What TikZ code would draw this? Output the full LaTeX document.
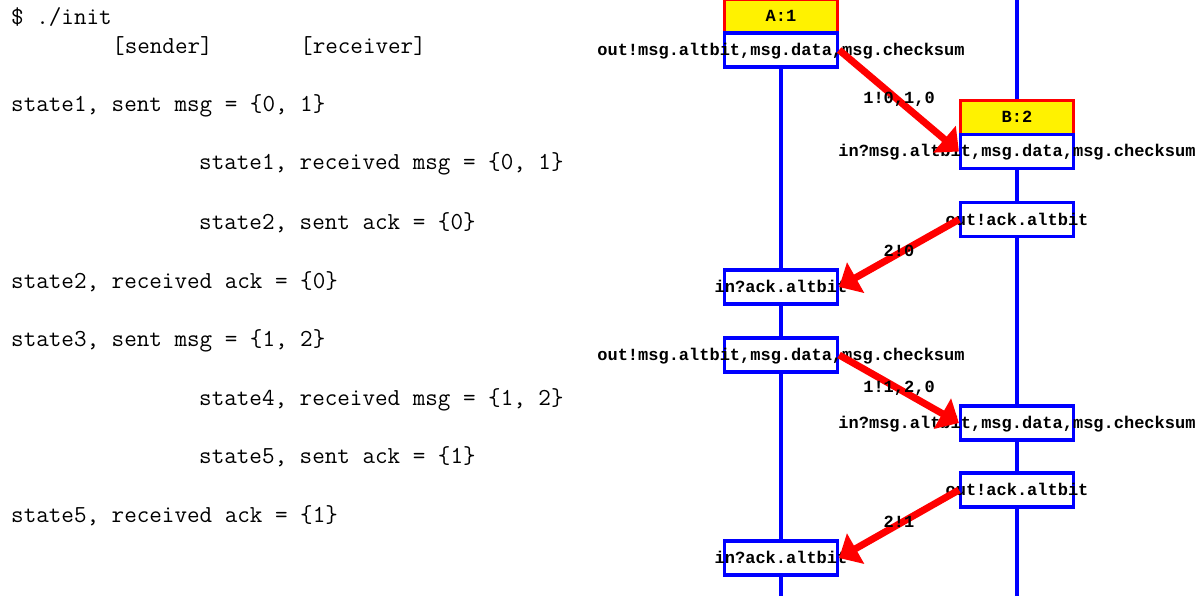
\documentclass[tikz,border=0pt]{standalone}
\usepackage{fontspec}
\newfontfamily\cour{Liberation Mono}
\usetikzlibrary{arrows.meta}
\tikzset{
  tline/.style={anchor=base west, inner sep=0pt, font=\ttfamily\fontsize{24.4pt}{29pt}\selectfont},
  lbl/.style={anchor=base, inner sep=0pt, font=\cour\bfseries\fontsize{17pt}{20pt}\selectfont},
  hdrbox/.style={draw=red, fill=yellow, line width=3.2pt, minimum width=113pt, minimum height=34pt, inner sep=0pt},
  evtbox/.style={draw=blue, fill=white, line width=3.2pt, minimum width=113pt, minimum height=34pt, inner sep=0pt},
  lifeline/.style={draw=blue, line width=3.2pt},
  msgarrow/.style={draw=red, line width=7pt, -{Triangle[length=19pt,width=34pt]}},
  msglbl/.style={lbl, yshift=-3pt},
}
\begin{document}
\begin{tikzpicture}[x=1pt,y=-1pt]
\useasboundingbox (0,0) rectangle (1201,596);
% console text
\node[tline] (t0) at (11,25) {\$ ./init};
\node[tline] (t1a) at (112,54) {[sender]};
\node[tline] (t1b) at (300,54) {[receiver]};
\node[tline] (t2) at (11,112) {state1, sent msg = \{0, 1\}};
\node[tline] (t3) at (199,170) {state1, received msg = \{0, 1\}};
\node[tline] (t4) at (199,229) {state2, sent ack = \{0\}};
\node[tline] (t5) at (11,288) {state2, received ack = \{0\}};
\node[tline] (t6) at (11,346) {state3, sent msg = \{1, 2\}};
\node[tline] (t7) at (199,405) {state4, received msg = \{1, 2\}};
\node[tline] (t8) at (199,463) {state5, sent ack = \{1\}};
\node[tline] (t9) at (11,522) {state5, received ack = \{1\}};
% lifelines
\coordinate (la0) at (781,0);
\coordinate (la1) at (781,596);
\coordinate (lb0) at (1017,0);
\coordinate (lb1) at (1017,596);
\draw[lifeline] (la0) -- (la1);
\draw[lifeline] (lb0) -- (lb1);
% A
\node[hdrbox] (ha) at (781,16.5) {};
\node[lbl] at (781,21.5) {A:1};
\node[evtbox] (a1) at (781,50) {};
\node[lbl] at (781,55.5) {out!msg.altbit,msg.data,msg.checksum};
\node[evtbox] (a2) at (781,287) {};
\node[lbl] at (781,292.5) {in?ack.altbit};
\node[evtbox] (a3) at (781,355) {};
\node[lbl] at (781,360.5) {out!msg.altbit,msg.data,msg.checksum};
\node[evtbox] (a4) at (781,558) {};
\node[lbl] at (781,563.5) {in?ack.altbit};
% B
\node[hdrbox] (hb) at (1017,117.5) {};
\node[lbl] at (1017,122.5) {B:2};
\node[evtbox] (b1) at (1017,151.5) {};
\node[lbl] at (1017,157) {in?msg.altbit,msg.data,msg.checksum};
\node[evtbox] (b2) at (1017,219.5) {};
\node[lbl] at (1017,225) {out!ack.altbit};
\node[evtbox] (b3) at (1017,423) {};
\node[lbl] at (1017,428.5) {in?msg.altbit,msg.data,msg.checksum};
\node[evtbox] (b4) at (1017,490) {};
\node[lbl] at (1017,495.5) {out!ack.altbit};
% messages
\draw[msgarrow] (a1.east) -- node[msglbl] {1!0,1,0} (b1.west);
\draw[msgarrow] (b2.west) -- node[msglbl] {2!0} (a2.east);
\draw[msgarrow] (a3.east) -- node[msglbl] {1!1,2,0} (b3.west);
\draw[msgarrow] (b4.west) -- node[msglbl] {2!1} (a4.east);
\end{tikzpicture}
\end{document}
